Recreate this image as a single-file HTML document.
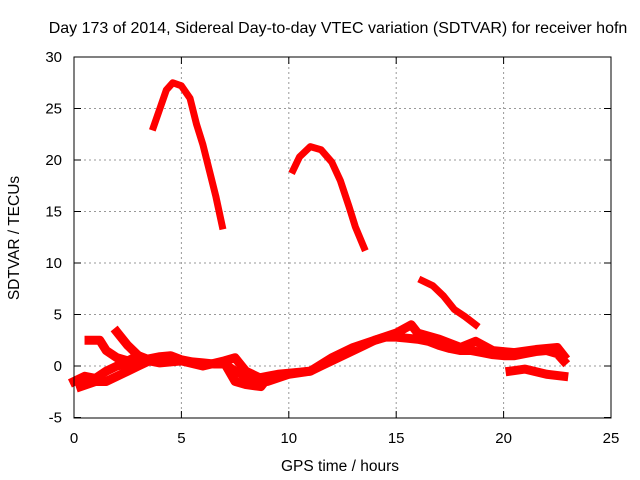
<!DOCTYPE html>
<html><head><meta charset="utf-8"><style>
body{margin:0;background:#fff}
svg{display:block;font-family:"Liberation Sans",sans-serif}
</style></head><body>
<svg id="chart" width="640" height="480">
<text x="338" y="33" font-size="16" text-anchor="middle">Day 173 of 2014, Sidereal Day-to-day VTEC variation (SDTVAR) for receiver hofn</text>
<g id="grid"></g><g id="series"></g><g id="axes"></g>
<text x="340" y="471" font-size="15.5" text-anchor="middle">GPS time / hours</text>
<text x="19" y="238" font-size="15.5" text-anchor="middle" transform="rotate(-90 19 238)">SDTVAR / TECUs</text>
</svg>
<script>
const xTicks=[0,5,10,15,20,25];
const yTicks=[-5,0,5,10,15,20,25,30];
const s1x=[3.7,4.0,4.3,4.6,5.0,5.4,5.7,6.0,6.3,6.6,6.9];
const s1y=[23.2,25,26.8,27.5,27.2,26.0,23.5,21.5,19,16.5,13.6];
const s2x=[10.2,10.5,11.0,11.5,12.0,12.4,12.8,13.1,13.5];
const s2y=[19,20.3,21.3,21.0,19.8,18,15.5,13.5,11.5];
const s3x=[16.2,16.7,17.2,17.7,18.2,18.7];
const s3y=[8.3,7.8,6.8,5.5,4.8,4.0];
const s4x=[0,0.5,1,1.5,2,2.5,3,3.5,4,4.5,5,5.5,6,6.5,7,7.5,8,8.5,9,9.5,10,10.5,11,11.5,12,12.5,13,13.5,14,14.5,15,15.5,16,16.5,17,17.5,18,18.5,19,19.5,20,20.5,21,21.5,22,22.5,22.8];
const s4y=[-1.5,-1.0,-1.2,-0.5,0,0.2,0.5,0.7,0.9,1.0,0.6,0.4,0.3,0.2,0.2,-0.5,-1,-1.2,-1,-0.8,-0.7,-0.6,-0.5,0,0.5,1.0,1.5,2.0,2.5,2.8,2.8,2.7,2.6,2.4,2.0,1.7,1.5,1.5,1.3,1.1,1.0,1.0,1.2,1.4,1.5,1.2,0.5];
const s5x=[0.7,1.2,1.5,2,2.5,3,3.5,4,5,6,7,7.5,8,9,10,11,12,13,14,15,15.7,16,17,18,18.7,19.5,20.5,21.5,22.5,22.8];
const s5y=[2.5,2.5,1.5,0.8,0.5,1.0,0.5,0.3,0.5,0,0.5,0.8,-0.5,-1.5,-0.8,-0.5,0.8,1.8,2.5,3.2,4.0,3.2,2.6,1.8,2.4,1.5,1.3,1.6,1.8,1.0];
const s6x=[0.3,1,1.5,2,2.5,3,3.5];
const s6y=[-2,-1.5,-1.5,-1,-0.5,0,0.5];
const s7x=[2,2.5,3,3.5];
const s7y=[3.3,2,1,0.6];
const s8x=[20.3,21,22,22.8];
const s8y=[-0.5,-0.3,-0.8,-1.0];
const s9x=[7,7.5,8,8.7,9];
const s9y=[0.3,-1.5,-1.8,-2.0,-1.2];
const X=v=>74+v*(611-74)/25, Y=v=>366-v*(366-57)/30;
const NS="http://www.w3.org/2000/svg";
function mk(t,a,p){const e=document.createElementNS(NS,t);for(const k in a)e.setAttribute(k,a[k]);p.appendChild(e);return e;}
const g=document.getElementById('grid'),ax=document.getElementById('axes'),sr=document.getElementById('series');
xTicks.forEach(v=>{
 if(v>0&&v<25){const l=mk('line',{x1:X(v),x2:X(v),y1:57,y2:418,stroke:'#999','stroke-dasharray':'2,3'},g);
 }
 mk('line',{x1:X(v),x2:X(v),y1:418,y2:411,stroke:'#000'},ax);mk('line',{x1:X(v),x2:X(v),y1:57,y2:64,stroke:'#000'},ax);
 const t=mk('text',{x:X(v),y:443,'font-size':15,'text-anchor':'middle'},ax);t.textContent=v;
 
});
yTicks.forEach(v=>{
 if(v>-5&&v<30){const l=mk('line',{x1:74,x2:611,y1:Y(v),y2:Y(v),stroke:'#999','stroke-dasharray':'2,3'},g);
 }
 mk('line',{x1:74,x2:81,y1:Y(v),y2:Y(v),stroke:'#000'},ax);mk('line',{x1:611,x2:604,y1:Y(v),y2:Y(v),stroke:'#000'},ax);
 const t=mk('text',{x:62,y:Y(v)+5,'font-size':15,'text-anchor':'end'},ax);t.textContent=v;
 
});
const fr=mk('rect',{x:74,y:57,width:537,height:361,fill:'none',stroke:'#000','stroke-width':1},ax);

[[s1x,s1y],[s2x,s2y],[s3x,s3y],[s4x,s4y],[s5x,s5y],[s6x,s6y],[s7x,s7y],[s8x,s8y],[s9x,s9y]].forEach((s,i)=>{
 const pts=s[0].map((x,j)=>X(x)+','+Y(s[1][j])).join(' ');
 const p=mk('polyline',{points:pts,fill:'none',stroke:'#f00','stroke-width':i<3?7:9,'stroke-linejoin':'round','stroke-linecap':'square'},sr);
 
 
});
</script>
</body></html>
